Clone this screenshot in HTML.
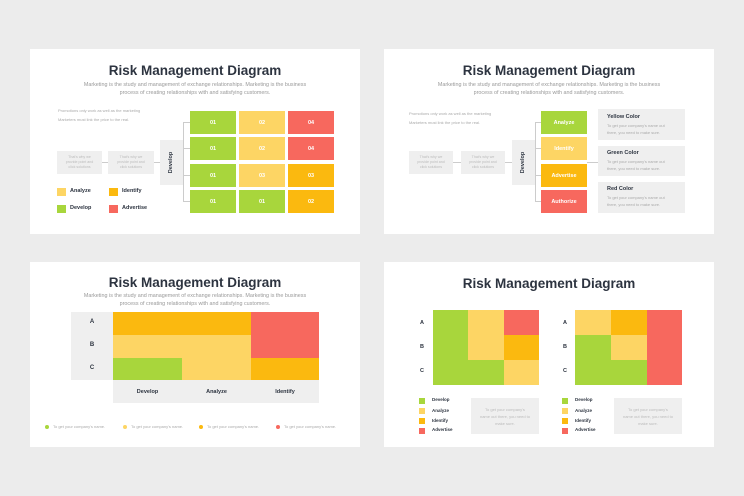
<!DOCTYPE html><html><head><meta charset="utf-8"><style>
body{margin:0;width:744px;height:496px;background:#ececec;position:relative;overflow:hidden;font-family:"Liberation Sans",sans-serif}
.s{position:absolute;background:#fff;width:330px;height:185px;overflow:hidden}
.a{position:absolute}
.t{position:absolute;left:0;width:330px;text-align:center;font-size:13.5px;font-weight:bold;color:#2d3440;top:14px}
.st{position:absolute;left:0;width:330px;text-align:center;font-size:5.4px;color:#999;line-height:7.5px;top:33px}
.c{position:absolute;color:#fff;font-size:5.5px;display:flex;align-items:center;justify-content:center;font-weight:bold}
.G{background:#a8d63c}.Y{background:#fdd564}.O{background:#fbb90f}.R{background:#f7685e}
.gb{position:absolute;background:#efefef;color:#bbb;font-size:3.6px;text-align:center;display:flex;align-items:center;justify-content:center;line-height:5px}
.sm{position:absolute;font-size:4px;color:#aaa;line-height:8.5px}
.lg{position:absolute;font-size:5.5px;font-weight:bold;color:#2d3440}
.ln{position:absolute;background:#ccc}
</style></head><body>

<!-- Slide 1 -->
<div class="s" style="left:30px;top:49px">
<div class="t">Risk Management Diagram</div>
<div class="st">Marketing is the study and management of exchange relationships. Marketing is the business<br>process of creating relationships with and satisfying customers.</div>
<div class="sm" style="left:28px;top:58px">Promotions only work as well as the marketing<br>Marketers must link the price to the real.</div>
<div class="gb" style="left:27px;top:53px;width:45px;height:23px;top:102px">That's why we<br>provide point and<br>click solutions</div>
<div class="gb" style="left:78px;top:102px;width:46px;height:23px">That's why we<br>provide point and<br>click solutions</div>
<div class="ln" style="left:72px;top:113px;width:6px;height:1px"></div>
<div class="ln" style="left:124px;top:113px;width:6px;height:1px"></div>
<div class="gb" style="left:130px;top:91px;width:23px;height:45px"><span style="transform:rotate(-90deg);color:#2d3440;font-size:5.5px;font-weight:bold;white-space:nowrap">Develop</span></div>
<div class="ln" style="left:153px;top:73px;width:1px;height:80px"></div>
<div class="ln" style="left:153px;top:73px;width:7px;height:1px"></div>
<div class="ln" style="left:153px;top:99px;width:7px;height:1px"></div>
<div class="ln" style="left:153px;top:126px;width:7px;height:1px"></div>
<div class="ln" style="left:153px;top:152px;width:7px;height:1px"></div>
<div class="c G" style="left:160px;top:62px;width:46px;height:23px">01</div>
<div class="c Y" style="left:209px;top:62px;width:46px;height:23px">02</div>
<div class="c R" style="left:258px;top:62px;width:46px;height:23px">04</div>
<div class="c G" style="left:160px;top:88px;width:46px;height:23px">01</div>
<div class="c Y" style="left:209px;top:88px;width:46px;height:23px">02</div>
<div class="c R" style="left:258px;top:88px;width:46px;height:23px">04</div>
<div class="c G" style="left:160px;top:115px;width:46px;height:23px">01</div>
<div class="c Y" style="left:209px;top:115px;width:46px;height:23px">03</div>
<div class="c O" style="left:258px;top:115px;width:46px;height:23px">03</div>
<div class="c G" style="left:160px;top:141px;width:46px;height:23px">01</div>
<div class="c G" style="left:209px;top:141px;width:46px;height:23px">01</div>
<div class="c O" style="left:258px;top:141px;width:46px;height:23px">02</div>
<div class="a Y" style="left:27px;top:139px;width:9px;height:8px"></div><div class="lg" style="left:40px;top:139px">Analyze</div>
<div class="a O" style="left:79px;top:139px;width:9px;height:8px"></div><div class="lg" style="left:92px;top:139px">Identify</div>
<div class="a G" style="left:27px;top:156px;width:9px;height:8px"></div><div class="lg" style="left:40px;top:156px">Develop</div>
<div class="a R" style="left:79px;top:156px;width:9px;height:8px"></div><div class="lg" style="left:92px;top:156px">Advertise</div>
</div>

<!-- Slide 2 -->
<div class="s" style="left:384px;top:49px">
<div class="t">Risk Management Diagram</div>
<div class="st">Marketing is the study and management of exchange relationships. Marketing is the business<br>process of creating relationships with and satisfying customers.</div>
<div class="sm" style="left:25px;top:61px">Promotions only work as well as the marketing<br>Marketers must link the price to the real.</div>
<div class="gb" style="left:25px;top:102px;width:44px;height:23px">That's why we<br>provide point and<br>click solutions</div>
<div class="gb" style="left:77px;top:102px;width:44px;height:23px">That's why we<br>provide point and<br>click solutions</div>
<div class="ln" style="left:69px;top:113px;width:8px;height:1px"></div>
<div class="ln" style="left:121px;top:113px;width:7px;height:1px"></div>
<div class="gb" style="left:128px;top:91px;width:23px;height:45px"><span style="transform:rotate(-90deg);color:#2d3440;font-size:5.5px;font-weight:bold;white-space:nowrap">Develop</span></div>
<div class="ln" style="left:151px;top:73px;width:1px;height:80px"></div>
<div class="ln" style="left:151px;top:73px;width:6px;height:1px"></div>
<div class="ln" style="left:151px;top:99px;width:6px;height:1px"></div>
<div class="ln" style="left:151px;top:126px;width:6px;height:1px"></div>
<div class="ln" style="left:151px;top:152px;width:6px;height:1px"></div>
<div class="ln" style="left:203px;top:113px;width:11px;height:1px"></div>
<div class="c G" style="left:157px;top:62px;width:46px;height:23px">Analyze</div>
<div class="c Y" style="left:157px;top:88px;width:46px;height:23px">Identify</div>
<div class="c O" style="left:157px;top:115px;width:46px;height:23px">Advertise</div>
<div class="c R" style="left:157px;top:141px;width:46px;height:23px">Authorize</div>
<div class="gb" style="left:214px;top:60px;width:87px;height:31px"></div>
<div class="gb" style="left:214px;top:97px;width:87px;height:30px"></div>
<div class="gb" style="left:214px;top:133px;width:87px;height:31px"></div>
<div class="lg" style="left:223px;top:65px">Yellow Color</div><div class="sm" style="left:223px;top:73px;line-height:7px">To get your company's name out<br>there, you need to make sure.</div>
<div class="lg" style="left:223px;top:101px">Green Color</div><div class="sm" style="left:223px;top:109px;line-height:7px">To get your company's name out<br>there, you need to make sure.</div>
<div class="lg" style="left:223px;top:137px">Red Color</div><div class="sm" style="left:223px;top:145px;line-height:7px">To get your company's name out<br>there, you need to make sure.</div>
</div>

<!-- Slide 3 -->
<div class="s" style="left:30px;top:262px">
<div class="t" style="top:13px">Risk Management Diagram</div>
<div class="st" style="top:31px">Marketing is the study and management of exchange relationships. Marketing is the business<br>process of creating relationships with and satisfying customers.</div>
<div class="a" style="left:41px;top:50px;width:42px;height:68px;background:#efefef"></div>
<div class="lg" style="left:41px;top:57px;width:42px;text-align:center;font-size:6px">A</div>
<div class="lg" style="left:41px;top:80px;width:42px;text-align:center;font-size:6px">B</div>
<div class="lg" style="left:41px;top:103px;width:42px;text-align:center;font-size:6px">C</div>
<div class="a O" style="left:83px;top:50px;width:69px;height:23px"></div>
<div class="a O" style="left:152px;top:50px;width:69px;height:23px"></div>
<div class="a R" style="left:221px;top:50px;width:68px;height:23px"></div>
<div class="a Y" style="left:83px;top:73px;width:69px;height:23px"></div>
<div class="a Y" style="left:152px;top:73px;width:69px;height:23px"></div>
<div class="a R" style="left:221px;top:73px;width:68px;height:23px"></div>
<div class="a G" style="left:83px;top:96px;width:69px;height:22px"></div>
<div class="a Y" style="left:152px;top:96px;width:69px;height:22px"></div>
<div class="a O" style="left:221px;top:96px;width:68px;height:22px"></div>
<div class="a" style="left:83px;top:118px;width:206px;height:23px;background:#efefef"></div>
<div class="lg" style="left:83px;top:127px;width:69px;text-align:center">Develop</div>
<div class="lg" style="left:152px;top:127px;width:69px;text-align:center">Analyze</div>
<div class="lg" style="left:221px;top:127px;width:68px;text-align:center">Identify</div>
<div class="a G" style="left:15px;top:163px;width:4px;height:4px;border-radius:2px"></div><div class="sm" style="left:23px;top:161px">To get your company's name.</div>
<div class="a Y" style="left:93px;top:163px;width:4px;height:4px;border-radius:2px"></div><div class="sm" style="left:101px;top:161px">To get your company's name.</div>
<div class="a O" style="left:169px;top:163px;width:4px;height:4px;border-radius:2px"></div><div class="sm" style="left:177px;top:161px">To get your company's name.</div>
<div class="a R" style="left:246px;top:163px;width:4px;height:4px;border-radius:2px"></div><div class="sm" style="left:254px;top:161px">To get your company's name.</div>
</div>

<!-- Slide 4 -->
<div class="s" style="left:384px;top:262px">
<div class="t" style="top:14px">Risk Management Diagram</div>
<div class="lg" style="left:36px;top:58px">A</div><div class="lg" style="left:36px;top:82px">B</div><div class="lg" style="left:36px;top:106px">C</div>
<div class="lg" style="left:179px;top:58px">A</div><div class="lg" style="left:179px;top:82px">B</div><div class="lg" style="left:179px;top:106px">C</div>
<div class="a G" style="left:49px;top:48px;width:35px;height:25px"></div>
<div class="a Y" style="left:84px;top:48px;width:36px;height:25px"></div>
<div class="a R" style="left:120px;top:48px;width:35px;height:25px"></div>
<div class="a G" style="left:49px;top:73px;width:35px;height:25px"></div>
<div class="a Y" style="left:84px;top:73px;width:36px;height:25px"></div>
<div class="a O" style="left:120px;top:73px;width:35px;height:25px"></div>
<div class="a G" style="left:49px;top:98px;width:35px;height:25px"></div>
<div class="a G" style="left:84px;top:98px;width:36px;height:25px"></div>
<div class="a Y" style="left:120px;top:98px;width:35px;height:25px"></div>
<div class="a Y" style="left:191px;top:48px;width:36px;height:25px"></div>
<div class="a O" style="left:227px;top:48px;width:36px;height:25px"></div>
<div class="a R" style="left:263px;top:48px;width:35px;height:25px"></div>
<div class="a G" style="left:191px;top:73px;width:36px;height:25px"></div>
<div class="a Y" style="left:227px;top:73px;width:36px;height:25px"></div>
<div class="a R" style="left:263px;top:73px;width:35px;height:25px"></div>
<div class="a G" style="left:191px;top:98px;width:36px;height:25px"></div>
<div class="a G" style="left:227px;top:98px;width:36px;height:25px"></div>
<div class="a R" style="left:263px;top:98px;width:35px;height:25px"></div>
<div class="a G" style="left:35px;top:136px;width:6px;height:6px"></div><div class="lg" style="left:48px;top:135px;font-size:4.5px">Develop</div>
<div class="a Y" style="left:35px;top:146px;width:6px;height:6px"></div><div class="lg" style="left:48px;top:146px;font-size:4.5px">Analyze</div>
<div class="a O" style="left:35px;top:156px;width:6px;height:6px"></div><div class="lg" style="left:48px;top:156px;font-size:4.5px">Identify</div>
<div class="a R" style="left:35px;top:166px;width:6px;height:6px"></div><div class="lg" style="left:48px;top:165px;font-size:4.5px">Advertise</div>
<div class="gb" style="left:87px;top:136px;width:68px;height:36px;font-size:4px;line-height:7px">To get your company's<br>name out there, you need to<br>make sure.</div>
<div class="a G" style="left:178px;top:136px;width:6px;height:6px"></div><div class="lg" style="left:191px;top:135px;font-size:4.5px">Develop</div>
<div class="a Y" style="left:178px;top:146px;width:6px;height:6px"></div><div class="lg" style="left:191px;top:146px;font-size:4.5px">Analyze</div>
<div class="a O" style="left:178px;top:156px;width:6px;height:6px"></div><div class="lg" style="left:191px;top:156px;font-size:4.5px">Identify</div>
<div class="a R" style="left:178px;top:166px;width:6px;height:6px"></div><div class="lg" style="left:191px;top:165px;font-size:4.5px">Advertise</div>
<div class="gb" style="left:230px;top:136px;width:68px;height:36px;font-size:4px;line-height:7px">To get your company's<br>name out there, you need to<br>make sure.</div>
</div>
</body></html>
